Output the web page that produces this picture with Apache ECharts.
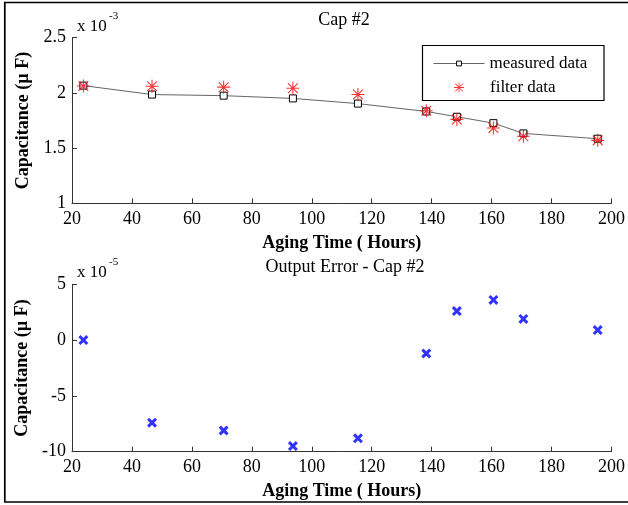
<!DOCTYPE html>
<html><head><meta charset="utf-8">
<script src="https://cdn.jsdelivr.net/npm/echarts@6/dist/echarts.min.js"></script>
<style>html,body{margin:0;padding:0;background:#fff}#c{width:628px;height:505px}</style>
</head><body><div id="c"></div>
<script>
// Aging time (hours)
const agingHours = [23.8, 46.7, 70.6, 93.7, 115.4, 138.2, 148.4, 160.6, 170.6, 195.4];
// Capacitance, units of 1e-3 uF
const measuredData = [2.066, 1.985, 1.975, 1.950, 1.903, 1.832, 1.784, 1.726, 1.633, 1.585];
const filterData   = [2.063, 2.060, 2.052, 2.042, 1.985, 1.838, 1.760, 1.682, 1.608, 1.570];
// Output error, units of 1e-5 uF
const outputError  = [0.0, -7.4, -8.1, -9.5, -8.8, -1.2, 2.6, 3.6, 1.9, 0.9];
const xTicks = [20, 40, 60, 80, 100, 120, 140, 160, 180, 200];
const yTicksTop = [1, 1.5, 2, 2.5];
const yTicksBottom = [-10, -5, 0, 5];

const FONT = 'Liberation Serif';
const starPath = 'path://M0 11L24 11L24 13L0 13Z M11 0L13 0L13 24L11 24Z M3.7 2.3L21.7 20.3L20.3 21.7L2.3 3.7Z M20.3 2.3L21.7 3.7L3.7 21.7L2.3 20.3Z';
const xPath = 'path://M5.47 0.53L23.47 18.53L18.53 23.47L0.53 5.47Z M18.53 0.53L23.47 5.47L5.47 23.47L0.53 18.53Z';

function pairs(xs, ys){ return xs.map((x,i)=>[x, ys[i]]); }

const axisCommon = {
  axisLine:{show:true, onZero:false, lineStyle:{color:'#333', width:1}},
  axisTick:{show:true, inside:true, length:5, lineStyle:{color:'#333', width:1}},
  splitLine:{show:false},
  axisLabel:{color:'#000', fontFamily:FONT, fontSize:18},
  nameTextStyle:{color:'#000', fontFamily:FONT, fontSize:18, fontWeight:'bold'}
};

function xAxis(gi){
  return Object.assign({}, axisCommon, {
    type:'value', gridIndex:gi, min:xTicks[0], max:xTicks[xTicks.length-1], interval:20,
    name:'Aging Time ( Hours)', nameLocation:'middle', nameGap:31,
    axisLabel:Object.assign({}, axisCommon.axisLabel, {margin:7})
  });
}
function yAxis(gi, ticks){
  return Object.assign({}, axisCommon, {
    type:'value', gridIndex:gi, min:ticks[0], max:ticks[ticks.length-1], interval:ticks[1]-ticks[0],
    name:'Capacitance (\u00b5 F)', nameLocation:'middle', nameGap:38, nameRotate:90,
    axisLabel:Object.assign({}, axisCommon.axisLabel, {margin:6})
  });
}

const legendText = {fontFamily:FONT, fontSize:17, color:'#000'};

const chart = echarts.init(document.getElementById('c'), null, {renderer:'canvas'});
chart.setOption({
  animation:false,
  backgroundColor:'#fff',
  textStyle:{fontFamily:FONT},
  title:[
    {text:'Cap #2', left:339, top:6, textAlign:'center', textStyle:{fontFamily:FONT, fontSize:18, fontWeight:'normal', color:'#000'}},
    {text:'x 10', left:72, top:13, textStyle:{fontFamily:FONT, fontSize:17, fontWeight:'normal', color:'#000'}},
    {text:'-3', left:104, top:6, textStyle:{fontFamily:FONT, fontSize:11, fontWeight:'normal', color:'#000'}},
    {text:'Output Error - Cap #2', left:340, top:253, textAlign:'center', textStyle:{fontFamily:FONT, fontSize:18, fontWeight:'normal', color:'#000'}},
    {text:'x 10', left:72, top:259, textStyle:{fontFamily:FONT, fontSize:17, fontWeight:'normal', color:'#000'}},
    {text:'-5', left:104, top:252, textStyle:{fontFamily:FONT, fontSize:11, fontWeight:'normal', color:'#000'}}
  ],
  graphic:[
    {type:'rect', shape:{x:4.8, y:2.5, width:700, height:499.5}, style:{fill:'none', stroke:'#000', lineWidth:1.7}, silent:true, z:-1},
    {type:'rect', shape:{x:422.5, y:45.5, width:181.5, height:55}, style:{fill:'#fff', stroke:'#000', lineWidth:1.2}, silent:true, z:-1}
  ],
  legend:[
    {left:433, top:55, orient:'vertical', padding:0,
     itemWidth:51, itemHeight:6, itemGap:0, itemStyle:{borderWidth:1},
     lineStyle:{width:1, color:'#666'},
     textStyle:legendText, data:['measured data']},
    {left:454, top:79, orient:'vertical', padding:0,
     itemWidth:10, itemHeight:10, itemGap:0,
     textStyle:Object.assign({padding:[0,0,0,21]}, legendText), data:[{name:'filter data', icon:starPath}]}
  ],
  grid:[
    {left:72, top:37.7, width:540, height:165.6},
    {left:72, top:284.3, width:540, height:167.4}
  ],
  xAxis:[xAxis(0), xAxis(1)],
  yAxis:[yAxis(0, yTicksTop), yAxis(1, yTicksBottom)],
  series:[
    {name:'measured data', type:'line', xAxisIndex:0, yAxisIndex:0, data:pairs(agingHours, measuredData),
     symbol:'rect', symbolSize:7, showAllSymbol:true,
     lineStyle:{color:'#666', width:1}, itemStyle:{color:'#fff', borderColor:'#000', borderWidth:1}, z:2},
    {name:'filter data', type:'scatter', xAxisIndex:0, yAxisIndex:0, data:pairs(agingHours, filterData),
     symbol:starPath, symbolSize:13, itemStyle:{color:'#ff0000'}, z:3},
    {name:'output error', type:'scatter', xAxisIndex:1, yAxisIndex:1, data:pairs(agingHours, outputError),
     symbol:xPath, symbolSize:10, itemStyle:{color:'#0000ff'}}
  ]
});
</script></body></html>
